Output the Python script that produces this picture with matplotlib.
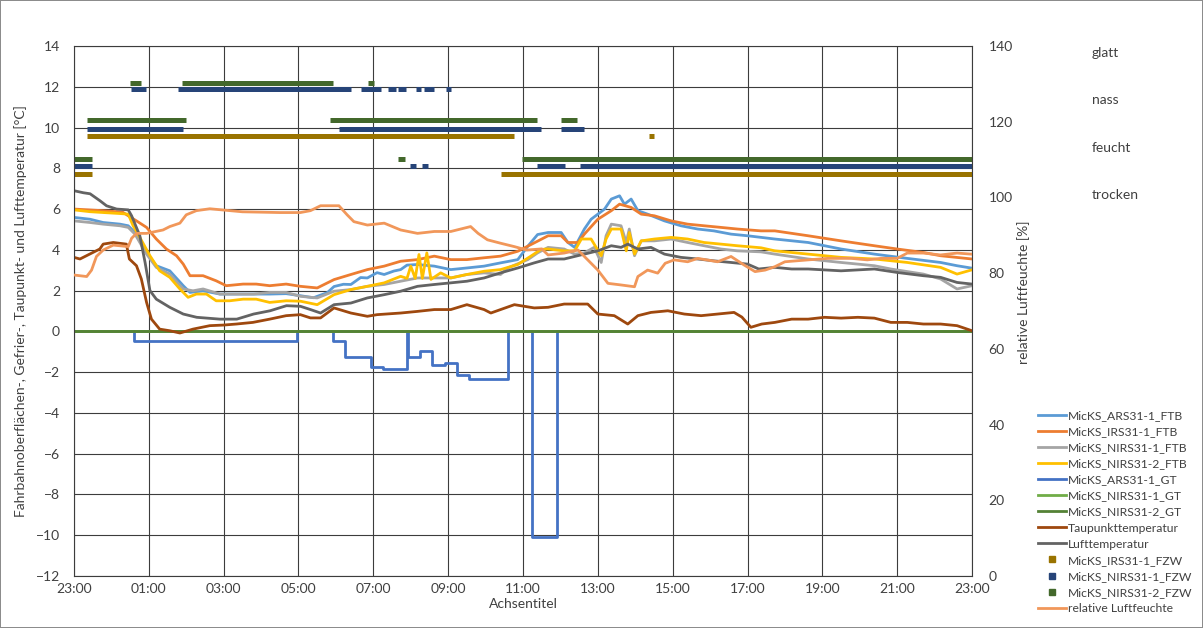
import numpy as np
import matplotlib
matplotlib.use("Agg")
import matplotlib.pyplot as plt
from matplotlib.lines import Line2D

plt.rcParams['font.family'] = ['Lato', 'DejaVu Sans']

# Stunden ab 23:00
hour_ticks = [0, 2, 4, 6, 8, 10, 12, 14, 16, 18, 20, 22, 24]
hour_labels = ['23:00', '01:00', '03:00', '05:00', '07:00', '09:00', '11:00',
               '13:00', '15:00', '17:00', '19:00', '21:00', '23:00']

# MicKS_ARS31-1_FTB
t_ars_ftb = [0, 0.43, 0.78, 1.23, 1.45, 1.63, 1.94, 2.2, 2.56, 2.92, 3.1, 3.45, 3.9, 4.34, 4.8,
             5.23, 5.67, 6.05, 6.4, 6.77, 6.95, 7.2, 7.4, 7.66, 7.84, 8.1, 8.29, 8.55, 8.73, 8.9,
             9.18, 9.63, 10.07, 10.5, 10.96, 11.4, 11.86, 12.13, 12.39, 12.67, 13.02, 13.2, 13.38,
             13.64, 13.82, 14.18, 14.36, 14.58, 14.71, 14.89, 15.07, 15.33, 15.78, 16.22, 16.67,
             17.1, 17.56, 18.0, 18.73, 19.62, 20.5, 21.39, 22.27, 23.16, 23.6, 24]
ars_ftb = [5.59, 5.5, 5.34, 5.26, 5.18, 4.85, 3.87, 3.22, 2.97, 2.24, 1.91, 1.99, 1.83, 1.83, 1.83,
           1.83, 1.85, 1.75, 1.65, 1.9, 2.2, 2.31, 2.3, 2.64, 2.62, 2.88, 2.79, 2.96, 3.03, 3.25,
           3.28, 3.2, 3.03, 3.11, 3.2, 3.36, 3.52, 4.18, 4.75, 4.85, 4.85, 4.36, 4.12,
           5.02, 5.5, 6.0, 6.49, 6.65, 6.24, 6.49, 5.92, 5.75, 5.42, 5.18, 5.02,
           4.93, 4.77, 4.69, 4.53, 4.36, 4.04, 3.79, 3.58, 3.38, 3.22, 3.1]

# MicKS_IRS31-1_FTB
t_irs_ftb = [0, 0.78, 1.3, 1.45, 1.67, 1.94, 2.2, 2.47, 2.74, 2.92, 3.1, 3.45, 3.8, 4.07, 4.52,
             4.87, 5.23, 5.67, 6.05, 6.5, 6.95, 7.4, 7.84, 8.29, 8.73, 9.18, 9.63, 10.07, 10.5,
             10.96, 11.4, 11.86, 12.3, 12.67, 13.02, 13.2, 13.47, 13.64, 14.0, 14.36, 14.58, 14.89,
             15.16, 15.51, 15.96, 16.4, 16.84, 17.29, 17.73, 18.36, 18.73, 19.62, 20.5, 21.39,
             22.0, 22.7, 23.16, 24]
irs_ftb = [6.0, 5.92, 5.85, 5.67, 5.42, 5.1, 4.53, 4.04, 3.71, 3.3, 2.73, 2.73, 2.48, 2.24, 2.32,
           2.32, 2.24, 2.32, 2.21, 2.13, 2.54, 2.79, 3.03, 3.2, 3.44, 3.52, 3.69, 3.52, 3.52,
           3.61, 3.69, 3.93, 4.34, 4.69, 4.69, 4.36, 4.36, 4.77, 5.5, 5.92, 6.24, 6.08,
           5.75, 5.67, 5.42, 5.26, 5.18, 5.1, 5.02, 4.93, 4.93, 4.69, 4.44, 4.2,
           4.04, 3.87, 3.71, 3.55]

# MicKS_NIRS31-1_FTB
t_nirs1_ftb = [0, 0.43, 0.78, 1.23, 1.45, 1.63, 1.94, 2.2, 2.56, 2.92, 3.18, 3.45, 3.9, 4.34, 4.8,
               5.23, 5.67, 6.05, 6.5, 6.95, 7.4, 7.84, 8.29, 8.73, 9.18, 9.63, 10.07, 10.5, 10.96,
               11.4, 11.59, 12.13, 12.39, 12.67, 13.1, 13.38, 13.64, 13.9, 14.09, 14.22, 14.36,
               14.62, 14.76, 14.84, 14.98, 15.16, 15.51, 15.96, 16.4, 16.84, 17.29, 17.73, 18.36,
               18.73, 19.62, 20.5, 21.39, 21.83, 22.7, 23.16, 23.6, 24]
nirs1_ftb = [5.42, 5.34, 5.26, 5.18, 5.1, 4.77, 3.79, 3.14, 2.81, 2.08, 1.99, 2.08, 1.83, 1.83, 1.83,
             1.91, 1.91, 1.72, 1.64, 1.97, 2.05, 2.21, 2.3, 2.46, 2.62, 2.62, 2.62, 2.79, 2.87,
             2.79, 3.11, 3.52, 3.85, 4.12, 4.04, 3.79, 3.85, 4.12, 3.38, 4.69, 5.26,
             5.18, 4.36, 5.02, 3.71, 4.44, 4.44, 4.53, 4.36, 4.2, 4.04, 3.95, 3.9,
             3.79, 3.55, 3.38, 3.22, 3.06, 2.81, 2.57, 2.08, 2.24]

# MicKS_NIRS31-2_FTB
t_nirs2_ftb = [0, 0.43, 0.78, 1.23, 1.45, 1.58, 1.76, 2.03, 2.29, 2.56, 2.83, 3.05, 3.27, 3.54, 3.8,
               4.16, 4.52, 4.87, 5.23, 5.67, 6.05, 6.5, 6.95, 7.4, 7.84, 8.29, 8.73, 8.9, 9.0, 9.12,
               9.22, 9.31, 9.43, 9.54, 9.8, 10.07, 10.5, 10.96, 11.4, 11.86, 12.21, 12.48, 12.67,
               13.1, 13.38, 13.56, 13.82, 14.09, 14.22, 14.36, 14.62, 14.76, 14.84, 14.98, 15.16,
               15.51, 15.96, 16.4, 16.84, 17.29, 17.73, 18.36, 18.73, 19.62, 20.5, 21.39, 22.27,
               23.16, 23.6, 24]
nirs2_ftb = [5.96, 5.87, 5.83, 5.78, 5.75, 5.18, 4.61, 3.71, 2.97, 2.65, 2.08, 1.67, 1.83, 1.83, 1.5,
             1.5, 1.58, 1.58, 1.42, 1.5, 1.48, 1.31, 1.8, 2.05, 2.21, 2.38, 2.7, 2.6, 3.2, 2.6,
             3.77, 2.6, 3.85, 2.55, 2.87, 2.62, 2.79, 2.95, 3.03, 3.28, 3.69, 4.02, 4.04,
             3.95, 3.95, 4.53, 4.53, 3.71, 4.53, 5.02, 5.02, 3.95, 4.85, 3.79, 4.44,
             4.53, 4.61, 4.53, 4.36, 4.28, 4.2, 4.1, 3.95, 3.79, 3.63, 3.55, 3.38,
             3.14, 2.81, 3.02]

# MicKS_ARS31-1_GT (Stufen)
t_ars_gt = [0, 1.6, 5.97, 6.93, 7.25, 7.94, 8.25, 8.9, 8.93, 9.25, 9.58, 9.92, 10.23, 10.56,
            11.59, 12.24, 12.9, 24]
ars_gt = [0, -0.49, 0, -0.49, -1.28, -1.77, -1.85, 0, -1.28, -0.98, -1.66, -1.56, -2.15, -2.34,
          0, -10.08, 0, 0]

# MicKS_NIRS31-1_GT / MicKS_NIRS31-2_GT
t_gt = [0, 24]
nirs1_gt = [0, 0]
nirs2_gt = [0, 0]

# Lufttemperatur
t_luft = [0, 0.25, 0.43, 0.7, 0.87, 1.14, 1.45, 1.54, 1.76, 1.9, 2.03, 2.2, 2.56, 2.92, 3.28, 3.9,
          4.35, 4.8, 5.24, 5.68, 6.05, 6.32, 6.59, 6.95, 7.4, 7.84, 8.29, 8.73, 9.18, 9.63, 10.07,
          10.5, 10.96, 11.4, 11.86, 12.3, 12.67, 13.1, 13.64, 14.0, 14.36, 14.62, 14.8, 15.07,
          15.42, 15.78, 16.22, 16.67, 17.1, 17.56, 18.0, 18.3, 18.73, 19.18, 19.62, 20.5, 21.39,
          22.0, 22.7, 23.16, 23.6, 24]
luft = [6.9, 6.8, 6.75, 6.4, 6.16, 6.0, 5.96, 5.67, 4.69, 3.38, 2.0, 1.58, 1.18, 0.85, 0.69, 0.6,
        0.6, 0.85, 1.01, 1.26, 1.23, 1.07, 0.9, 1.31, 1.39, 1.64, 1.8, 1.97, 2.21, 2.3, 2.38,
        2.46, 2.62, 2.87, 3.11, 3.36, 3.55, 3.55, 3.79, 3.95, 4.2, 4.12, 4.28, 4.04,
        4.12, 3.79, 3.63, 3.55, 3.46, 3.38, 3.3, 3.06, 3.14, 3.06, 3.06, 2.97, 3.06,
        2.89, 2.73, 2.65, 2.4, 2.32]

# Taupunkttemperatur
t_tau = [0, 0.16, 0.43, 0.69, 0.78, 1.05, 1.4, 1.48, 1.67, 1.8, 1.94, 2.07, 2.29, 2.56, 2.83, 3.18,
         3.63, 4.0, 4.34, 4.78, 5.23, 5.67, 6.05, 6.32, 6.59, 6.95, 7.4, 7.84, 8.1, 8.73, 9.18,
         9.63, 10.07, 10.5, 10.96, 11.14, 11.77, 12.3, 12.67, 13.1, 13.73, 14.0, 14.44, 14.8,
         15.07, 15.42, 15.87, 16.31, 16.76, 17.2, 17.64, 17.85, 18.09, 18.38, 18.73, 19.18,
         19.62, 20.06, 20.5, 20.95, 21.39, 21.83, 22.27, 22.7, 23.16, 23.6, 24]
tau = [3.63, 3.55, 3.8, 4.04, 4.28, 4.36, 4.28, 3.55, 3.22, 2.57, 1.42, 0.6, 0.11, 0.03, -0.08, 0.11,
       0.28, 0.31, 0.36, 0.44, 0.6, 0.77, 0.82, 0.66, 0.66, 1.15, 0.9, 0.74, 0.82, 0.9, 0.98,
       1.07, 1.07, 1.31, 1.07, 0.9, 1.31, 1.15, 1.18, 1.34, 1.34, 0.85, 0.77, 0.36,
       0.77, 0.93, 1.01, 0.85, 0.77, 0.85, 0.93, 0.7, 0.2, 0.36, 0.44, 0.6,
       0.6, 0.69, 0.65, 0.69, 0.65, 0.44, 0.44, 0.36, 0.36, 0.28, 0.03]

# relative Luftfeuchte [%]
t_rf = [0, 0.34, 0.47, 0.6, 0.78, 1.05, 1.45, 1.54, 1.67, 1.94, 2.38, 2.56, 2.83, 3.0, 3.27, 3.63,
        4.5, 5.5, 6.05, 6.32, 6.59, 7.08, 7.3, 7.48, 7.84, 8.29, 8.73, 9.18, 9.63, 10.07, 10.6,
        10.8, 11.05, 11.4, 11.77, 12.1, 12.5, 12.67, 13.1, 13.47, 13.82, 14.0, 14.27, 14.6,
        14.98, 15.07, 15.33, 15.6, 15.8, 16.04, 16.4, 16.67, 17.2, 17.56, 17.9, 18.2, 18.47,
        18.73, 19.0, 19.62, 20.15, 20.77, 21.2, 21.57, 22.0, 22.27, 22.7, 23.16, 23.6, 24]
rf = [79.5, 79.1, 80.8, 84.4, 86.1, 87.4, 87.0, 89.2, 90.5, 90.5, 91.4, 92.3, 93.2, 95.4, 96.5, 97.0,
      96.2, 96.0, 96.0, 96.5, 97.8, 97.8, 95.4, 93.6, 92.7, 93.2, 91.4, 90.5, 91.0, 91.0, 92.3,
      90.5, 88.8, 87.9, 87.0, 86.1, 86.4, 84.8, 85.3, 86.1, 82.6, 80.8, 77.3, 76.9,
      76.4, 79.1, 80.8, 80.0, 82.6, 83.5, 83.0, 83.9, 83.0, 84.4, 82.2, 80.4, 80.8,
      81.7, 83.0, 83.5, 83.9, 83.9, 83.5, 83.9, 83.9, 85.3, 85.3, 84.8, 85.3, 85.0]

# Fahrbahnzustand (Beginn, Ende, Niveau)
fzw_irs1 = [(0.36, 11.77, 9.59), (15.38, 15.51, 9.59),
            (0, 0.48, 7.71), (11.41, 24, 7.71)]
fzw_nirs1 = [(1.53, 1.93, 11.87), (2.78, 7.41, 11.87), (7.66, 8.21, 11.87), (8.38, 8.6, 11.87),
             (8.67, 8.87, 11.87), (9.13, 9.27, 11.87), (9.35, 9.61, 11.87), (9.94, 10.07, 11.87),
             (0.36, 2.92, 9.95), (7.07, 12.49, 9.95), (13.02, 13.64, 9.95),
             (0, 0.48, 8.11), (8.98, 9.13, 8.11), (9.31, 9.46, 8.11), (12.38, 13.13, 8.11),
             (13.51, 24, 8.11)]
fzw_nirs2 = [(1.5, 1.79, 12.2), (2.88, 6.93, 12.2), (7.85, 8.02, 12.2),
             (0.36, 3.0, 10.35), (6.83, 12.38, 10.35), (13.02, 13.44, 10.35),
             (0, 0.48, 8.47), (8.67, 8.84, 8.47), (11.98, 24, 8.47)]

state_labels = ['glatt', 'nass', 'feucht', 'trocken']

fig = plt.figure(figsize=(12.03, 6.28), dpi=100)
fig.patch.set_edgecolor('#8c8c8c')
fig.patch.set_linewidth(1.2)
ax = fig.add_axes([0.0615, 0.0828, 0.7465, 0.844])

txt = '#404040'
lw = 2.0
h1, = ax.plot(t_ars_ftb, ars_ftb, color='#5B9BD5', lw=lw, label='MicKS_ARS31-1_FTB')
h2, = ax.plot(t_irs_ftb, irs_ftb, color='#ED7D31', lw=lw, label='MicKS_IRS31-1_FTB')
h3, = ax.plot(t_nirs1_ftb, nirs1_ftb, color='#A5A5A5', lw=lw, label='MicKS_NIRS31-1_FTB')
h4, = ax.plot(t_nirs2_ftb, nirs2_ftb, color='#FFC000', lw=lw, label='MicKS_NIRS31-2_FTB')
h5, = ax.plot(t_ars_gt, ars_gt, color='#4472C4', lw=lw, drawstyle='steps-post',
              label='MicKS_ARS31-1_GT')
h6, = ax.plot(t_gt, nirs1_gt, color='#70AD47', lw=lw, label='MicKS_NIRS31-1_GT')
h7, = ax.plot(t_gt, nirs2_gt, color='#548235', lw=lw, label='MicKS_NIRS31-2_GT')
h8, = ax.plot(t_tau, tau, color='#9E480E', lw=lw, label='Taupunkttemperatur')
h9, = ax.plot(t_luft, luft, color='#636363', lw=lw, label='Lufttemperatur')

fzw = [(fzw_irs1, '#997300', 'MicKS_IRS31-1_FZW'),
       (fzw_nirs1, '#264478', 'MicKS_NIRS31-1_FZW'),
       (fzw_nirs2, '#43682B', 'MicKS_NIRS31-2_FZW')]
fzw_handles = []
for segs, col, name in fzw:
    for a, b, lev in segs:
        ax.plot([a, b], [lev, lev], color=col, lw=3.6, solid_capstyle='butt')
    fzw_handles.append(Line2D([], [], color=col, marker='s', ls='none', markersize=4, label=name))

ax.set_xlim(0, 24)
ax.set_ylim(-12, 14)
ax.set_xticks(hour_ticks)
ax.set_xticklabels(hour_labels)
ax.set_yticks(np.arange(-12, 15, 2))
ax.grid(True, color='#3c3c3c', lw=0.8)
ax.set_axisbelow(True)
ax.tick_params(length=0, labelsize=10, colors=txt)
ax.tick_params(axis='y', pad=10)
ax.tick_params(axis='x', pad=5)
for s in ax.spines.values():
    s.set_color('#3c3c3c')
    s.set_linewidth(0.8)
ax.set_xlabel('Achsentitel', fontsize=10, color=txt, labelpad=2)
ax.set_ylabel('Fahrbahnoberflächen-, Gefrier-, Taupunkt- und Lufttemperatur [°C]',
              fontsize=10, color=txt)
ax.yaxis.set_label_coords(-0.052, 0.5)

ax2 = ax.twinx()
h13, = ax2.plot(t_rf, rf, color='#F1975A', lw=lw, label='relative Luftfeuchte')
ax2.set_ylim(0, 140)
ax2.set_yticks(np.arange(0, 141, 20))
ax2.tick_params(length=0, labelsize=10, colors=txt, pad=12)
for s in ax2.spines.values():
    s.set_visible(False)
ax2.set_ylabel('relative Luftfeuchte [%]', fontsize=10, color=txt)
ax2.yaxis.set_label_coords(1.05, 0.536)

for lab, y in zip(state_labels, [53, 100, 148, 195]):
    fig.text(1092 / 1203, 1 - y / 628, lab, fontsize=10, color=txt, va='center')

handles = [h1, h2, h3, h4, h5, h6, h7, h8, h9] + fzw_handles + [h13]
fig.legend(handles=handles, loc='upper left', bbox_to_anchor=(1032 / 1203, 1 - 404 / 628),
           frameon=False, fontsize=8.7, handlelength=2.3, handletextpad=0.15,
           labelspacing=0.42, borderpad=0, labelcolor=txt)

fig.savefig('out.png', dpi=100)
